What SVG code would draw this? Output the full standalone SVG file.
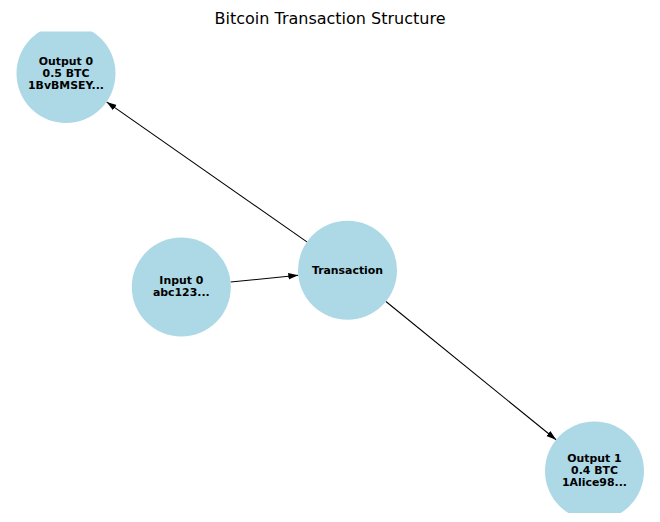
<svg xmlns="http://www.w3.org/2000/svg" width="660" height="522" viewBox="0 0 660 522">
<style>
.node{fill:#add8e6;stroke:none}
.lbl{font-family:"DejaVu Sans",sans-serif;font-weight:bold;font-size:10.9px;fill:#000;text-anchor:middle;dominant-baseline:central}
.edge{stroke:#000;stroke-width:1.1;fill:none;marker-end:url(#arr)}
.title{font-family:"DejaVu Sans",sans-serif;font-size:16px;fill:#000;text-anchor:middle}
</style>
<defs>
<clipPath id="ax"><rect x="0" y="31.5" width="660" height="481.5"/></clipPath>
<marker id="arr" markerUnits="userSpaceOnUse" viewBox="0 0 10 8" refX="10" refY="4" markerWidth="10" markerHeight="8" orient="auto"><path d="M0,0.8 L10,4 L0,7.2 Z" fill="#000"/></marker>
</defs>
<rect width="660" height="522" fill="#fff"/>
<text class="title" x="330" y="24">Bitcoin Transaction Structure</text>
<g clip-path="url(#ax)">
<g id="connectors">
<line class="edge" x1="230.6" y1="282" x2="298.3" y2="275.3"/>
<line class="edge" x1="306.9" y1="241.9" x2="106.6" y2="101.9"/>
<line class="edge" x1="385.9" y1="301.5" x2="556.1" y2="439.8"/>
</g>
<g id="output0"><circle class="node" cx="66" cy="73.5" r="49.5"/><text class="lbl" x="66" y="61">Output 0</text><text class="lbl" x="66" y="73">0.5 BTC</text><text class="lbl" x="66" y="85">1BvBMSEY...</text></g>
<g id="input0"><circle class="node" cx="181.3" cy="287" r="49.5"/><text class="lbl" x="181.3" y="280.5">Input 0</text><text class="lbl" x="181.3" y="292.5">abc123...</text></g>
<g id="transaction"><circle class="node" cx="347.5" cy="270.3" r="49.5"/><text class="lbl" x="347.5" y="270">Transaction</text></g>
<g id="output1"><circle class="node" cx="594.5" cy="471" r="49.5"/><text class="lbl" x="594.5" y="458.5">Output 1</text><text class="lbl" x="594.5" y="470.5">0.4 BTC</text><text class="lbl" x="594.5" y="482.5">1Alice98...</text></g>
</g>
</svg>
